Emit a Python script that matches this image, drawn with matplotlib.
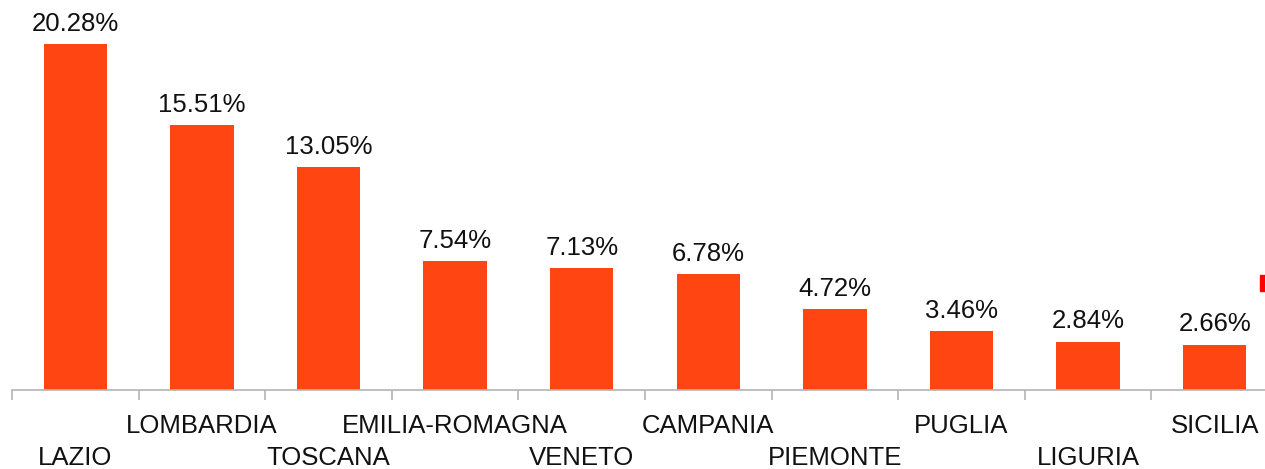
import matplotlib
matplotlib.use("Agg")
import matplotlib.pyplot as plt
from matplotlib.patches import Rectangle
import numpy as np

regions = ["LAZIO", "LOMBARDIA", "TOSCANA", "EMILIA-ROMAGNA", "VENETO",
           "CAMPANIA", "PIEMONTE", "PUGLIA", "LIGURIA", "SICILIA"]
values = [20.28, 15.51, 13.05, 7.54, 7.13, 6.78, 4.72, 3.46, 2.84, 2.66]

plt.rcParams['font.family'] = ['Liberation Sans', 'DejaVu Sans']

W, H = 1265, 469
fig = plt.figure(figsize=(W / 100, H / 100), dpi=100)
step = 126.6
left_px = 12
base_px = 390
ax = fig.add_axes([left_px / W, (H - base_px) / H, 10 * step / W, 375.3 / H])
x = np.arange(len(regions))
ax.bar(x, values, width=0.5, color="#ff4512")
ax.set_xlim(-0.5, 9.5)
ax.set_ylim(0, 22)
for s in ["top", "right", "left"]:
    ax.spines[s].set_visible(False)
ax.spines["bottom"].set_color("#b4b4b4")
ax.spines["bottom"].set_linewidth(1.2)
ax.set_yticks([])
ax.set_xticks(x)
ax.tick_params(axis="x", which="major", length=0, pad=0)
ax.set_xticklabels([])
ax.set_xticks(np.arange(-0.5, 10, 1), minor=True)
ax.tick_params(axis="x", which="minor", length=7.5, color="#b4b4b4", width=1.2)

fs = 18.5
for i, (r, v) in enumerate(zip(regions, values)):
    ax.annotate(f"{v:.2f}%", (i, v), xytext=(0, 6), textcoords="offset points",
                ha="center", va="bottom", fontsize=fs, color="#111111")
    y_px = 426 if i % 2 == 1 else 458
    fig.text((left_px + (i + 0.5) * step) / W, 1 - y_px / H, r, ha="center", va="center",
             fontsize=fs, color="#111111")

fig.patches.append(Rectangle((1260 / W, 1 - 291 / H), 6 / W, 16 / H,
                             transform=fig.transFigure, color="#ff0000", figure=fig))

fig.savefig("out.png", dpi=100)
